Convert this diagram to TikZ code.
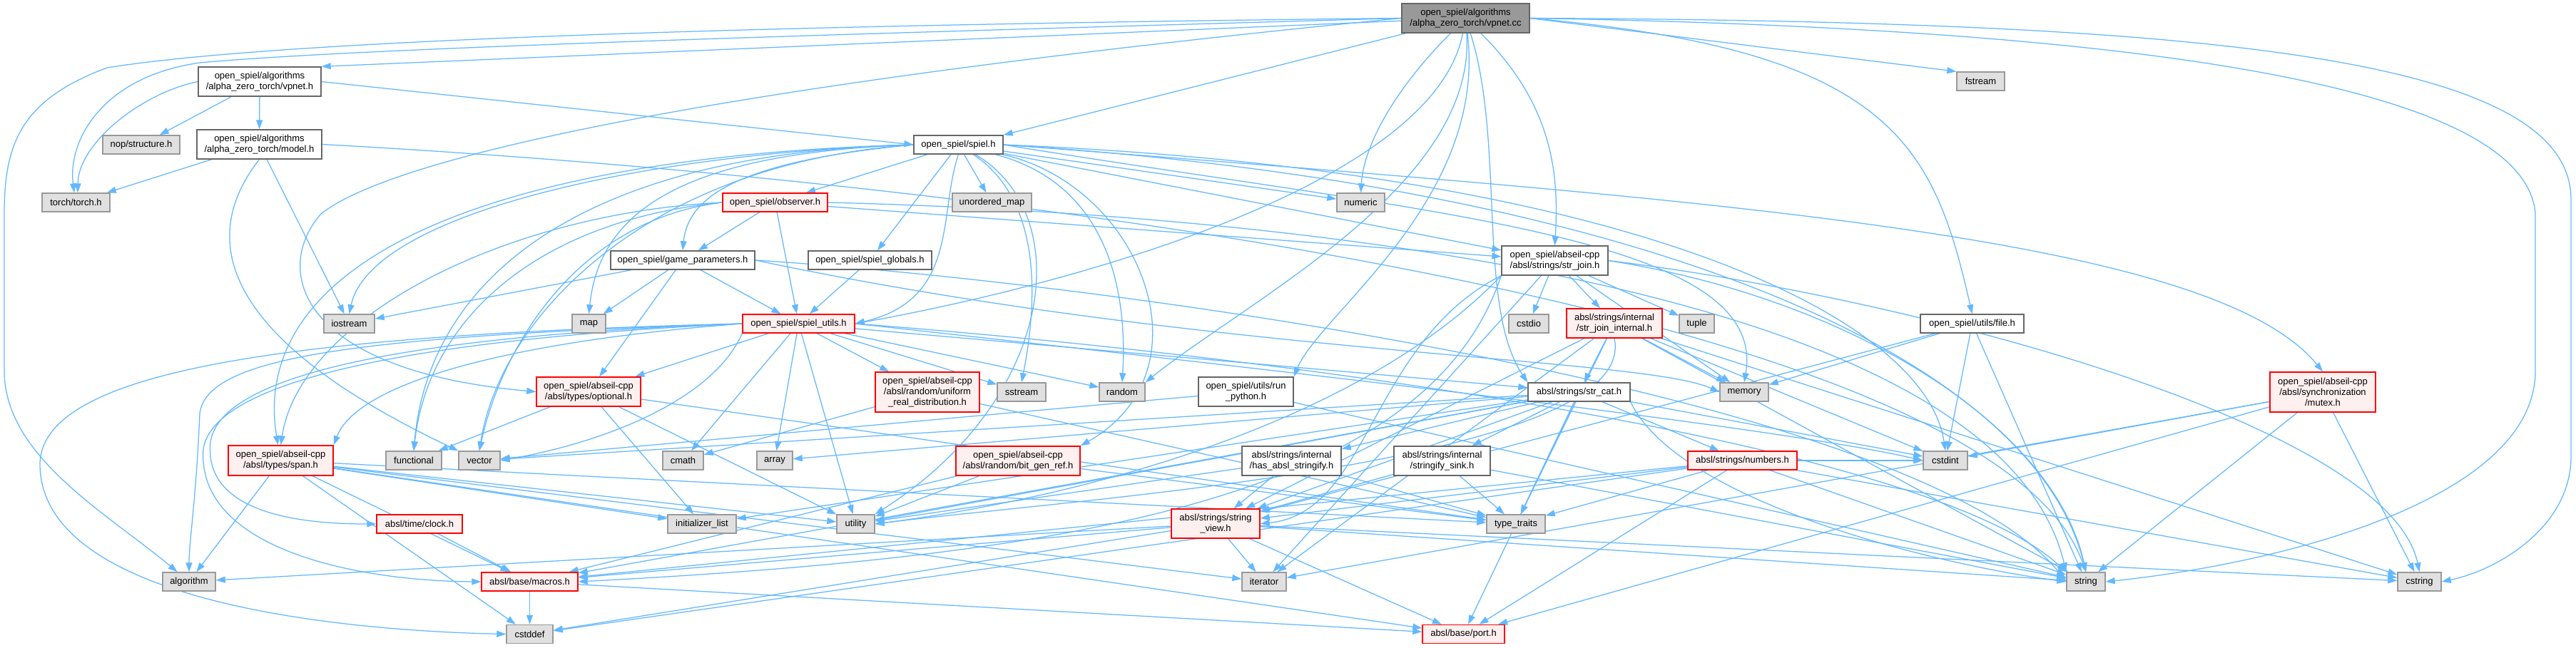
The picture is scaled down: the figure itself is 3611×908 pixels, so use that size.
\documentclass[tikz,border=0pt]{standalone}
\usepackage{fontspec}
\setmainfont{Liberation Sans}
\usetikzlibrary{arrows.meta}
\pgfdeclarelayer{bg}
\pgfsetlayers{bg,main}
\definecolor{edgec}{HTML}{63B8FF}
\definecolor{rootfill}{HTML}{999999}
\definecolor{rootdraw}{HTML}{666666}
\definecolor{extfill}{HTML}{E0E0E0}
\definecolor{extdraw}{HTML}{999999}
\definecolor{redfill}{HTML}{FFF0F0}
\definecolor{reddraw}{HTML}{FF0000}
\begin{document}
\begin{tikzpicture}[x=1pt,y=-1pt,
 box/.style={rectangle, inner sep=0pt, minimum height=26pt, align=center, font=\fontsize{13}{15}\selectfont, line width=1.4pt},
 root/.style={box, fill=rootfill, draw=rootdraw},
 wbox/.style={box, fill=white, draw=rootdraw},
 gbox/.style={box, fill=extfill, draw=extdraw},
 rbox/.style={box, fill=redfill, draw=reddraw},
 e/.style={draw=edgec, line width=1.25pt, -{Triangle[length=13pt,width=9pt]}}]
\useasboundingbox (0,0) rectangle (3611,908);
% nodes
\node[root, minimum width=179pt, minimum height=41pt] (cc) at (2054.5,25.5) {open\_spiel/algorithms\\/alpha\_zero\_torch/vpnet.cc};
\node[wbox, minimum width=172pt, minimum height=41pt] (vph) at (364,114.5) {open\_spiel/algorithms\\/alpha\_zero\_torch/vpnet.h};
\node[gbox, minimum width=108pt] (nop) at (198,203) {nop/structure.h};
\node[wbox, minimum width=175pt, minimum height=41pt] (model) at (363.5,202.5) {open\_spiel/algorithms\\/alpha\_zero\_torch/model.h};
\node[gbox, minimum width=95pt] (torch) at (106.5,284) {torch/torch.h};
\node[wbox, minimum width=125pt] (spiel) at (1343.5,203) {open\_spiel/spiel.h};
\node[rbox, minimum width=147pt] (obs) at (1086.5,284) {open\_spiel/observer.h};
\node[gbox, minimum width=111pt] (unmap) at (1390.5,284) {unordered\_map};
\node[gbox, minimum width=67pt] (numeric) at (1907.5,284) {numeric};
\node[wbox, minimum width=202pt] (gp) at (957,365) {open\_spiel/game\_parameters.h};
\node[wbox, minimum width=173pt] (glob) at (1219.5,365) {open\_spiel/spiel\_globals.h};
\node[rbox, minimum width=157pt] (utils) at (1119.5,454) {open\_spiel/spiel\_utils.h};
\node[gbox, minimum width=71pt] (iostream) at (489.5,454) {iostream};
\node[gbox, minimum width=47pt] (map) at (825.5,454) {map};
\node[wbox, minimum width=149pt, minimum height=41pt] (strjoin) at (2179.5,365.5) {open\_spiel/abseil-cpp\\/absl/strings/str\_join.h};
\node[gbox, minimum width=56pt] (cstdio) at (2143,454) {cstdio};
\node[rbox, minimum width=134pt, minimum height=41pt] (sji) at (2263,453.5) {absl/strings/internal\\/str\_join\_internal.h};
\node[gbox, minimum width=49pt] (tuple) at (2378.5,454) {tuple};
\node[wbox, minimum width=145pt] (file) at (2764.5,454) {open\_spiel/utils/file.h};
\node[gbox, minimum width=67pt] (fstream) at (2776.5,114) {fstream};
\node[rbox, minimum width=146pt, minimum height=41pt] (optional) at (825,549.5) {open\_spiel/abseil-cpp\\/absl/types/optional.h};
\node[rbox, minimum width=147pt, minimum height=42pt] (span) at (393.5,646) {open\_spiel/abseil-cpp\\/absl/types/span.h};
\node[gbox, minimum width=78pt] (functional) at (580,646) {functional};
\node[gbox, minimum width=58pt] (vector) at (672,646) {vector};
\node[rbox, minimum width=120pt] (clock) at (588,735) {absl/time/clock.h};
\node[gbox, minimum width=74pt] (algorithm) at (265,816) {algorithm};
\node[rbox, minimum width=135pt] (macros) at (742.5,816) {absl/base/macros.h};
\node[gbox, minimum width=65pt] (cstddef) at (742.5,889.5) {cstddef};
\node[rbox, minimum width=146pt, minimum height=56pt] (urd) at (1300,550) {open\_spiel/abseil-cpp\\/absl/random/uniform\\\_real\_distribution.h};
\node[gbox, minimum width=68pt] (sstream) at (1432,550) {sstream};
\node[gbox, minimum width=64pt] (random) at (1573,550) {random};
\node[wbox, minimum width=133pt, minimum height=41pt] (runpy) at (1746.5,549.5) {open\_spiel/utils/run\\\_python.h};
\node[gbox, minimum width=57pt] (cmath) at (957.5,646) {cmath};
\node[gbox, minimum width=50pt] (array) at (1086,646) {array};
\node[rbox, minimum width=174pt, minimum height=41pt] (bgr) at (1427,646.5) {open\_spiel/abseil-cpp\\/absl/random/bit\_gen\_ref.h};
\node[wbox, minimum width=139pt, minimum height=41pt] (has) at (1810.5,646.5) {absl/strings/internal\\/has\_absl\_stringify.h};
\node[gbox, minimum width=96pt] (initlist) at (984,735) {initializer\_list};
\node[gbox, minimum width=53pt] (utility) at (1199.5,735) {utility};
\node[rbox, minimum width=124pt, minimum height=41pt] (sv) at (1704,734.5) {absl/strings/string\\\_view.h};
\node[gbox, minimum width=62pt] (iterator) at (1772,816) {iterator};
\node[wbox, minimum width=143pt] (strcat) at (2213.5,550) {absl/strings/str\_cat.h};
\node[gbox, minimum width=68pt] (memory) at (2445,550) {memory};
\node[wbox, minimum width=135pt, minimum height=41pt] (sink) at (2021.5,646.5) {absl/strings/internal\\/stringify\_sink.h};
\node[rbox, minimum width=153pt] (numbers) at (2442.5,646) {absl/strings/numbers.h};
\node[gbox, minimum width=62pt] (cstdint) at (2727,646) {cstdint};
\node[gbox, minimum width=82pt] (typetraits) at (2125,735) {type\_traits};
\node[rbox, minimum width=115pt] (port) at (2051.5,889.5) {absl/base/port.h};
\node[rbox, minimum width=148pt, minimum height=56pt] (mutex) at (3256,550) {open\_spiel/abseil-cpp\\/absl/synchronization\\/mutex.h};
\node[gbox, minimum width=54pt] (string) at (2924,816) {string};
\node[gbox, minimum width=61pt] (cstring) at (3391.5,816) {cstring};
\begin{pgfonlayer}{bg}
\fill[white] (0,0) rectangle (3611,908);
% vpnet.cc
\draw[e] (cc.west) .. controls (1100,35) and (400,55) .. (150,95) .. controls (30,140) and (6,200) .. (6,300) -- (6,520) .. controls (6,640) and (150,720) .. (algorithm.140);
\draw[e] (cc.west) .. controls (1100,50) and (500,68) .. (280,88) .. controls (140,108) and (95,200) .. (torch.100);
\draw[e] (cc) -- (vph.north east);
\draw[e] (cc.west) .. controls (1000,120) and (550,220) .. (450,300) .. controls (380,380) and (420,520) .. (optional.west);
\draw[e] (cc) -- (spiel.north east);
\draw[e] (cc) .. controls (1960,120) and (1912,200) .. (numeric.north);
\draw[e] (cc) .. controls (2010,260) and (1500,400) .. (utils.east);
\draw[e] (cc) .. controls (2070,260) and (1750,420) .. (random.north east);
\draw[e] (cc) .. controls (2085,280) and (1850,440) .. (runpy.north east);
\draw[e] (cc) .. controls (2180,150) and (2185,250) .. (strjoin.north);
\draw[e] (cc) .. controls (2110,200) and (2070,430) .. (strcat.north west);
\draw[e] (cc.east) .. controls (2650,70) and (2710,200) .. (file.north);
\draw[e] (cc.east) -- (fstream.north west);
\draw[e] (cc.east) .. controls (3000,40) and (3540,120) .. (3554,300) -- (3554,520) .. controls (3554,700) and (3200,790) .. (string.east);
\draw[e] (cc.east) .. controls (3100,30) and (3604,80) .. (3604,280) -- (3604,640) .. controls (3604,740) and (3500,800) .. (cstring.east);
% vpnet.h, model.h
\draw[e] (vph.west) .. controls (200,130) and (110,200) .. (torch.80);
\draw[e] (vph.east) -- (spiel.west);
\draw[e] (model.south) .. controls (280,330) and (300,470) .. (vector.north west);
\draw[e] (model.east) .. controls (1500,260) and (2800,450) .. (string.north);
% spiel.h
\draw[e] (spiel.south) .. controls (1315,300) and (1345,420) .. (utils.east);
\draw[e] (spiel.west) .. controls (1050,225) and (965,270) .. (gp.north);
\draw[e] (spiel.east) .. controls (2400,280) and (3100,330) .. (mutex.north);
\draw[e] (spiel) .. controls (1600,260) and (1700,520) .. (bgr.north east);
\draw[e] (spiel) .. controls (1560,260) and (1580,420) .. (random.north);
\draw[e] (spiel) .. controls (1460,280) and (1455,420) .. (sstream.north);
\draw[e] (spiel.east) .. controls (2000,300) and (2480,330) .. (memory.north);
\draw[e] (spiel.east) .. controls (2300,260) and (2850,500) .. (string.north);
\draw[e] (spiel.west) .. controls (900,230) and (700,450) .. (vector.north);
\draw[e] (spiel) .. controls (1510,300) and (1480,560) .. (utility.north east);
\draw[e] (spiel.west) .. controls (800,215) and (600,400) .. (functional.north);
\draw[e] (spiel.west) .. controls (900,215) and (520,300) .. (iostream.north);
\draw[e] (spiel.west) .. controls (950,215) and (840,300) .. (map.north);
\draw[e] (spiel.east) .. controls (2300,240) and (2700,450) .. (cstdint.north);
\draw[e] (spiel.west) .. controls (650,220) and (350,380) .. (span.100);
% observer.h
\draw[e] (obs.west) .. controls (700,300) and (420,450) .. (span.north);
\draw[e] (obs.west) .. controls (800,310) and (700,500) .. (vector.north);
\draw[e] (obs.west) .. controls (750,310) and (600,450) .. (functional.north);
\draw[e] (obs.east) .. controls (1800,300) and (2800,400) .. (string.north west);
% game_parameters.h
\draw[e] (gp.east) .. controls (1600,400) and (2700,560) .. (string.west);
\draw[e] (gp.east) .. controls (1700,500) and (2300,500) .. (memory.west);
% spiel_utils.h
\draw[e] (utils.west) .. controls (700,480) and (500,540) .. (span.north east);
\draw[e] (utils.south west) .. controls (1000,560) and (850,620) .. (vector.east);
\draw[e] (utils.west) .. controls (600,470) and (310,520) .. (295,620) .. controls (285,720) and (420,735) .. (clock.west);
\draw[e] (utils.west) .. controls (600,475) and (300,530) .. (285,630) .. controls (275,770) and (500,815) .. (macros.west);
\draw[e] (utils.west) .. controls (500,472) and (290,500) .. (280,580) .. controls (275,700) and (265,760) .. (algorithm.north);
\draw[e] (utils.west) .. controls (400,470) and (60,520) .. (56,650) .. controls (55,850) and (500,885) .. (cstddef.west);
\draw[e] (utils.east) .. controls (1800,500) and (2700,620) .. (string.north west);
\draw[e] (utils.east) .. controls (1800,520) and (2500,600) .. (cstdint.west);
% str_join.h
\draw[e] (strjoin.east) .. controls (2600,420) and (2880,600) .. (string.north);
\draw[e] (strjoin.south west) .. controls (1920,480) and (1920,720) .. (sv.east);
\draw[e] (strjoin.south west) .. controls (2000,700) and (1500,780) .. (macros.east);
\draw[e] (strjoin.south west) .. controls (1900,600) and (1500,700) .. (utility.east);
\draw[e] (strjoin.east) .. controls (2700,420) and (3350,600) .. (cstring.north);
% others curved
\draw[e] (strcat.south east) .. controls (2350,700) and (2700,790) .. (string.west);
\draw[e] (sji.south) .. controls (2300,650) and (1500,700) .. (utility.east);
% straight edges
\foreach \a/\b in {vph/nop, vph/model, model/torch, model/iostream,
  spiel/obs, spiel/unmap, spiel/glob, spiel/numeric, spiel/strjoin,
  obs/gp, obs/utils, obs/strjoin,
  gp/iostream, gp/map, gp/utils, gp/optional, glob/utils,
  utils/urd, utils/sstream, utils/random, utils/cmath, utils/array, utils/utility, utils/strcat, utils/optional,
  urd/cmath, urd/typetraits,
  strjoin/cstdio, strjoin/sji, strjoin/tuple, strjoin/iterator, strjoin/memory,
  sji/strcat, sji/memory, sji/string, sji/sv, sji/typetraits, sji/iterator, sji/cstring, sji/cstdint,
  strcat/has, strcat/sink, strcat/numbers, strcat/typetraits, strcat/cstdint, strcat/array, strcat/sv,
  strcat/utility, strcat/vector, strcat/initlist, strcat/port, strcat/macros,
  runpy/string, runpy/vector,
  file/cstdint, file/memory, file/string, file/sv,
  optional/functional, optional/utility, optional/typetraits, optional/initlist,
  span/algorithm, span/cstddef, span/macros, span/initlist, span/utility, span/typetraits, span/iterator, span/port,
  clock/macros, macros/cstddef, macros/port,
  bgr/utility, bgr/typetraits, bgr/macros,
  has/sv, has/utility, has/typetraits,
  sink/sv, sink/typetraits, sink/string,
  numbers/sv, numbers/typetraits, numbers/port, numbers/string, numbers/cstring, numbers/cstdint, numbers/cstddef, numbers/macros,
  sv/algorithm, sv/cstddef, sv/cstring, sv/iterator, sv/string, sv/macros, sv/port,
  mutex/cstdint, mutex/iterator, mutex/string, mutex/port, mutex/cstring}
  \draw[e] (\a) -- (\b);
\end{pgfonlayer}
\end{tikzpicture}
\end{document}
